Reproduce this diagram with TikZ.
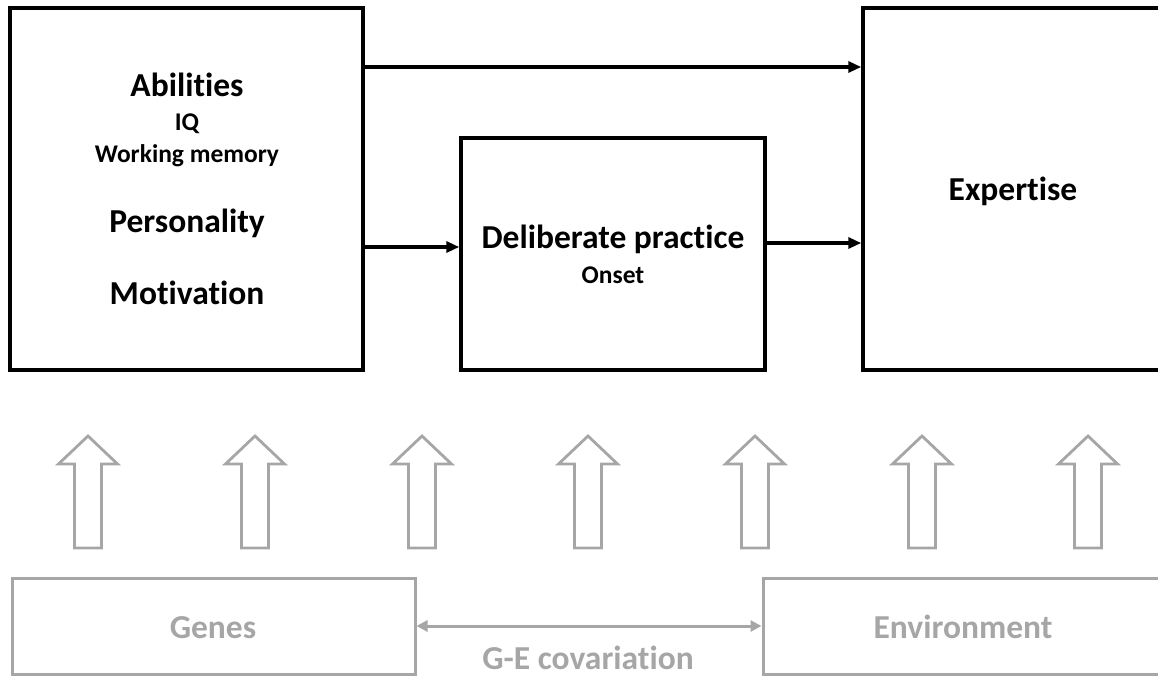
\documentclass[tikz,border=0pt]{standalone}
\usepackage{fontspec}
\setmainfont{Carlito}[Ligatures={NoCommon}]
\usetikzlibrary{arrows.meta}
\definecolor{lgray}{HTML}{A6A6A6}
\begin{document}
\begin{tikzpicture}[x=1pt,y=-1pt,
  blackbox/.style={draw=black,line width=3.5pt,inner sep=0pt},
  graybox/.style={draw=lgray,line width=3pt,inner sep=0pt},
  big/.style={font=\fontsize{33.5}{36}\bfseries\selectfont},
  small/.style={font=\fontsize{25.5}{28}\bfseries\selectfont},
  lbl/.style={inner sep=0pt,anchor=base},
  glbl/.style={inner sep=0pt,anchor=base,text=lgray},
  conn/.style={line width=3.2pt,-{Triangle[length=13pt,width=11pt]}},
  hollow/.style={draw=lgray,line width=2.8pt,line join=miter}]
\useasboundingbox (0,0) rectangle (1158,677);
\clip (0,0) rectangle (1158,677);
% boxes
\node[blackbox,minimum width=353pt,minimum height=362pt] (abil) at (186.5,189) {};
\node[blackbox,minimum width=304pt,minimum height=232pt] (delib) at (613,254) {};
\node[blackbox,minimum width=437pt,minimum height=362pt] (exp) at (1081.5,189) {};
\node[graybox,minimum width=403pt,minimum height=96pt] (genes) at (213.5,626) {};
\node[graybox,minimum width=437pt,minimum height=96pt] (env) at (981.5,626) {};
% texts
\node[lbl,big] (t1) at (187,96) {Abilities};
\node[lbl,small] (t2) at (187,130) {IQ};
\node[lbl,small] (t3) at (187,162) {Working memory};
\node[lbl,big] (t4) at (187,232) {Personality};
\node[lbl,big] (t5) at (187,304) {Motivation};
\node[lbl,big] (t6) at (613,248) {Deliberate practice};
\node[lbl,small] (t7) at (613,283) {Onset};
\node[lbl,big] (t8) at (1013,200) {Expertise};
\node[glbl,big] (t9) at (213,638) {Genes};
\node[glbl,big] (t10) at (963,638) {Environment};
\node[glbl,big] (t11) at (588,669) {G-E covariation};
% connectors
\draw[conn] ([yshift=122pt]abil.east) -- ([yshift=122pt]abil.east -| exp.west);
\draw[conn] ([yshift=-58pt]abil.east) -- ([yshift=-58pt]abil.east -| delib.west);
\draw[conn] ([yshift=11pt]delib.east) -- ([yshift=11pt]delib.east -| exp.west);
\draw[draw=lgray,line width=3pt,{Triangle[length=11pt,width=11pt]}-{Triangle[length=11pt,width=11pt]}] (genes.east) -- (env.west);
% hollow arrows
\foreach \cx in {88,255,422,588,755,922,1088}{
  \draw[hollow] (\cx,436) -- (\cx+29.5,464) -- (\cx+13.5,464) -- (\cx+13.5,548) -- (\cx-13.5,548) -- (\cx-13.5,464) -- (\cx-29.5,464) -- cycle;
}
\end{tikzpicture}
\end{document}
